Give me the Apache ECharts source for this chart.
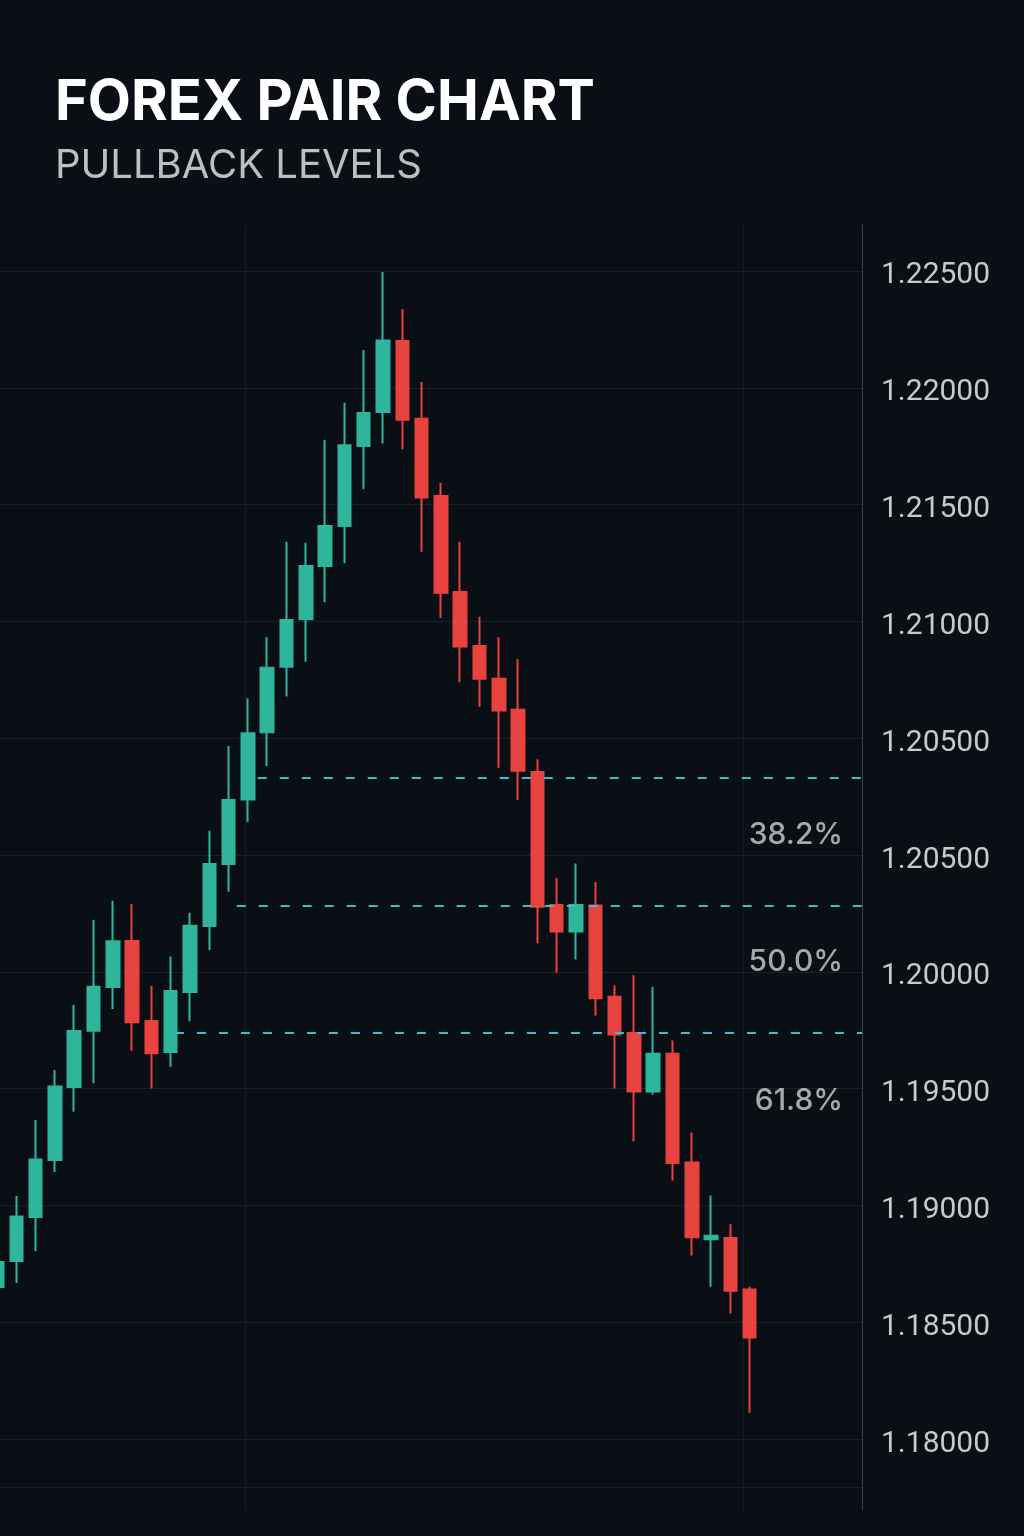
<!DOCTYPE html>
<html lang="en">
<head>
<meta charset="UTF-8" />
<title>Forex Pair Chart</title>
<script src="https://cdn.jsdelivr.net/npm/echarts@6/dist/echarts.min.js"></script>
<style>
  html, body { margin: 0; padding: 0; background: #0a0e15; }
  #chart { width: 1024px; height: 1536px; }
</style>
</head>
<body>
<div id="chart"></div>
<script>
  /* ---------- data ---------- */
  const opens = [
    1.18651, 1.18762, 1.18950, 1.19194, 1.19507, 1.19748, 1.19935, 1.20132, 1.19789, 1.19657,
    1.19914, 1.20196, 1.20462, 1.20738, 1.21025, 1.21306, 1.21509, 1.21737, 1.21908, 1.22251,
    1.22396, 1.22700, 1.22368, 1.22037, 1.21626, 1.21395, 1.21255, 1.21122, 1.20855, 1.20286,
    1.20172, 1.20284, 1.19893, 1.19738, 1.19488, 1.19649, 1.19184, 1.18855, 1.18861, 1.18640
  ];
  const closes = [
    1.18758, 1.18952, 1.19197, 1.19509, 1.19747, 1.19936, 1.20131, 1.19784, 1.19651, 1.19918,
    1.20197, 1.20462, 1.20735, 1.21021, 1.21302, 1.21506, 1.21737, 1.21908, 1.22254, 1.22392,
    1.22703, 1.22363, 1.22030, 1.21623, 1.21393, 1.21255, 1.21119, 1.20861, 1.20279, 1.20172,
    1.20286, 1.19887, 1.19732, 1.19488, 1.19649, 1.19182, 1.18864, 1.18870, 1.18635, 1.18435
  ];
  const lows = [
    1.18629, 1.18668, 1.18805, 1.19143, 1.19401, 1.19523, 1.19841, 1.19662, 1.19500, 1.19594,
    1.19788, 1.20093, 1.20343, 1.20640, 1.20881, 1.21178, 1.21327, 1.21582, 1.21749, 1.22066,
    1.22262, 1.22237, 1.21798, 1.21515, 1.21239, 1.21135, 1.20874, 1.20735, 1.20122, 1.19996,
    1.20053, 1.19813, 1.19500, 1.19275, 1.19474, 1.19107, 1.18786, 1.18652, 1.18537, 1.18112
  ];
  const highs = [
    1.18788, 1.19040, 1.19366, 1.19580, 1.19858, 1.20222, 1.20304, 1.20290, 1.19939, 1.20065,
    1.20253, 1.20604, 1.20967, 1.21171, 1.21432, 1.21841, 1.21837, 1.22277, 1.22436, 1.22662,
    1.22996, 1.22837, 1.22525, 1.22094, 1.21841, 1.21520, 1.21432, 1.21338, 1.20910, 1.20400,
    1.20464, 1.20384, 1.19941, 1.19985, 1.19936, 1.19706, 1.19312, 1.19042, 1.18919, 1.18652
  ];

  // price axis: tick values and the labels printed next to them (top -> bottom)
  const tickValues = [1.18, 1.185, 1.19, 1.195, 1.2, 1.205, 1.21, 1.215, 1.22, 1.225, 1.23];
  const tickLabels = [
    "1.22500", "1.22000", "1.21500", "1.21000", "1.20500", "1.20500",
    "1.20000", "1.19500", "1.19000", "1.18500", "1.18000"
  ];

  // pullback levels
  const levelNames = ["38.2%", "50.0%", "61.8%"];
  const levelValues = [1.20830, 1.20282, 1.19738];
  const levelStarts = [13.51, 12.42, 9.22];       // bar index where the dashed line begins
  const levelLabelValues = [1.20585, 1.20040, 1.19445];

  /* ---------- chart ---------- */
  const GREEN = "#2fb59b";
  const RED = "#e8433f";
  const X_MIN = 0.155, X_MAX = 44.82;

  const chart = echarts.init(document.getElementById("chart"), null, { renderer: "canvas" });

  const candles = opens.map((o, i) => [i, o, closes[i], lows[i], highs[i]]);

  const option = {
    backgroundColor: "#0a0e15",
    animation: false,
    title: {
      text: "FOREX PAIR CHART",
      subtext: "PULLBACK LEVELS",
      left: 50,
      top: 70,
      itemGap: 15,
      textStyle: { color: "#ffffff", fontFamily: "Inter", fontWeight: 700, fontSize: 56 },
      subtextStyle: { color: "#bcbfc3", fontFamily: "Inter", fontWeight: 400, fontSize: 40 }
    },
    grid: { left: 0, right: 162, top: 225, bottom: 26 },
    xAxis: {
      type: "value",
      min: X_MIN,
      max: X_MAX,
      axisLine: { show: false },
      axisLabel: { show: false },
      axisTick: { show: false, customValues: [12.85, 38.65] },
      splitLine: { show: true, lineStyle: { color: "#161c24", width: 1 } }
    },
    yAxis: {
      type: "value",
      position: "right",
      min: 1.176961,
      max: 1.231969,
      axisLine: { show: true, lineStyle: { color: "#39404a", width: 1 } },
      axisTick: { show: false, customValues: [1.177945].concat(tickValues) },
      axisLabel: {
        customValues: tickValues,
        margin: 19,
        formatter: (v) => "{p|" + tickLabels[10 - Math.round((v - 1.18) / 0.005)] + "}",
        rich: {
          p: {
            color: "#c8c9cb",
            fontFamily: "Roboto",
            fontSize: 30,
            padding: [10, 0, 0, 0]
          }
        }
      },
      splitLine: { show: true, lineStyle: { color: "#1a2029", width: 1 } }
    },
    series: [
      {
        type: "candlestick",
        data: candles,
        barWidth: 13,
        silent: true,
        itemStyle: {
          color: GREEN,
          borderColor: GREEN,
          color0: RED,
          borderColor0: RED,
          borderWidth: 2
        },
        markLine: {
          silent: true,
          symbol: ["none", "none"],
          label: { show: false },
          lineStyle: { color: "#3dbccc", type: [9, 13], width: 2.2 },
          data: levelValues.map((v, i) => [
            { coord: [levelStarts[i], v] },
            { coord: [X_MAX, v] }
          ])
        }
      },
      {
        type: "scatter",
        silent: true,
        symbolSize: 1,
        itemStyle: { color: "rgba(0,0,0,0)" },
        data: levelLabelValues.map((v, i) => ({ name: levelNames[i], value: [43.87, v] })),
        label: {
          show: true,
          position: "left",
          distance: 0,
          formatter: "{b}",
          color: "#cfd0d2",
          fontFamily: "Inter",
          fontWeight: 500,
          fontSize: 30
        }
      }
    ]
  };

  chart.setOption(option);
</script>
</body>
</html>
